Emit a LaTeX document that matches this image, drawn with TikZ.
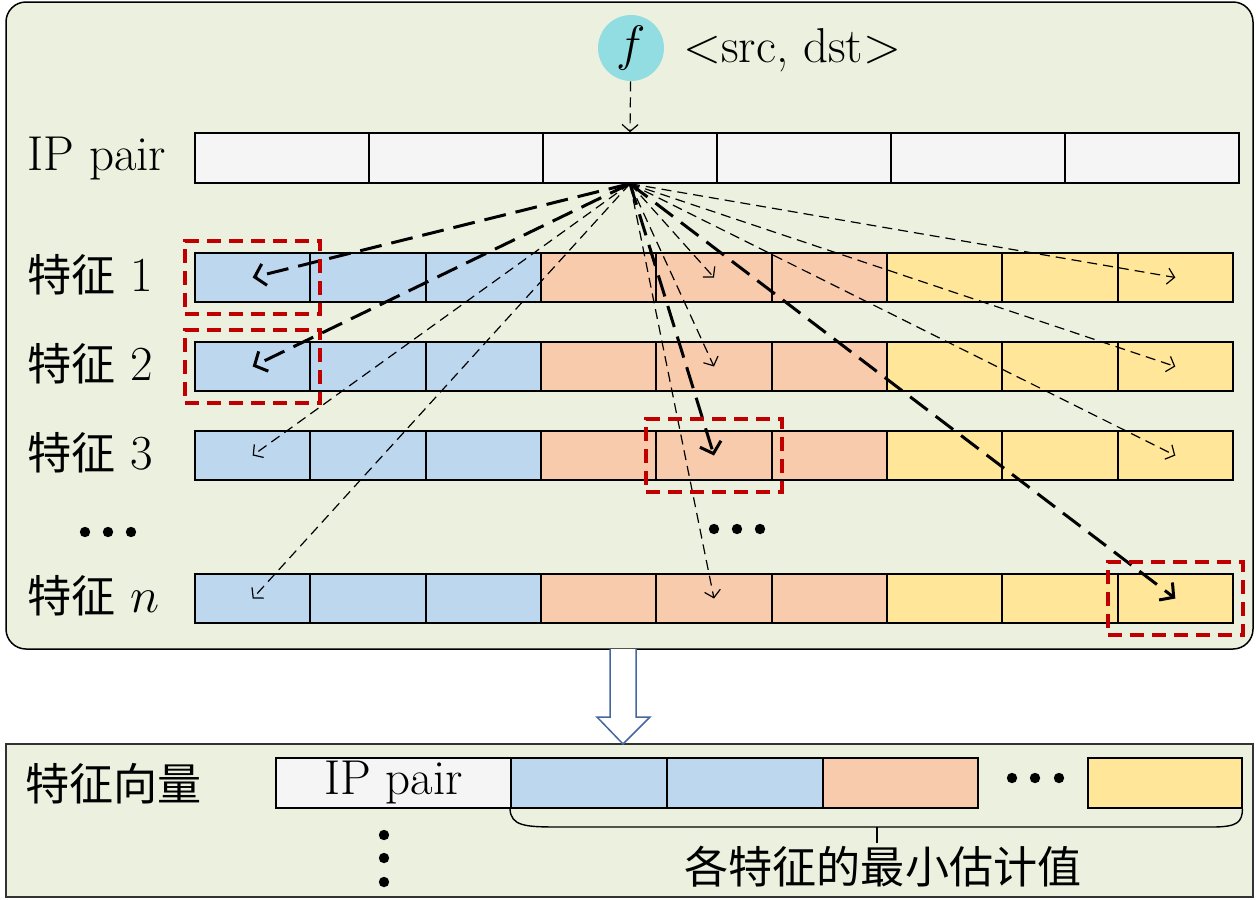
\documentclass[tikz,border=0pt]{standalone}
\usepackage{fontspec}
\newfontfamily\cjk{Noto Sans CJK SC}[Scale=0.9]
\usetikzlibrary{arrows.meta,fit}
\definecolor{panel}{HTML}{EBF1DE}
\definecolor{cyanf}{HTML}{92DDE2}
\definecolor{cb}{HTML}{BDD7EE}
\definecolor{co}{HTML}{F8CBAD}
\definecolor{cy}{HTML}{FFE699}
\definecolor{ipgray}{HTML}{F5F5F5}
\definecolor{darkred}{HTML}{C00000}
\definecolor{arrowblue}{HTML}{44679F}
\begin{document}
\begin{tikzpicture}[x=0.5pt,y=-0.5pt,
  every node/.style={font=\fontsize{24.5}{29}\selectfont, inner sep=0pt},
  cell/.style={draw=black, line width=1pt, minimum width=57.67pt, minimum height=24.5pt},
  ipcell/.style={draw=black, line width=0.7pt, fill=ipgray, minimum width=87pt, minimum height=25pt},
  vcell/.style={draw=black, line width=1pt, minimum height=25pt},
  thinarr/.style={draw=black, line width=0.6pt, dash pattern=on 5pt off 3pt, -{Straight Barb[length=3.5pt,width=8pt]}},
  thickarr/.style={draw=black, line width=1.5pt, dash pattern=on 11pt off 5pt, -{Straight Barb[length=5pt,width=11pt]}},
  redbox/.style={draw=darkred, line width=2pt, dash pattern=on 7pt off 4pt, inner xsep=4.5pt, inner ysep=5.5pt},
  lbl/.style={anchor=base west},
  panelbox/.style={draw=black, line width=0.75pt, fill=panel, minimum width=623.5pt},
]
\useasboundingbox (0,0) rectangle (1260,900);

% panels
\node[panelbox, rounded corners=10pt, minimum height=323.5pt] (top) at (629.5,325.5) {};
\node[panelbox, draw=black!80, minimum height=76.5pt] (bot) at (629.5,820.5) {};

% big hollow arrow
\draw[draw=arrowblue, fill=white, line width=0.75pt] (610,649) -- (610,717) -- (597,717) -- (623,744) -- (650,717) -- (636,717) -- (636,649);

% f and label
\node[circle, fill=cyanf, minimum size=33pt] (f) at (631,48) {$f$};
\node[lbl] (sd) at (683,62) {$<$src, dst$>$};

% IP pair row
\node[lbl] (iplbl) at (27,170) {IP pair};
\foreach \c in {1,...,6} {
  \node[ipcell] (ip\c) at ({195+(\c-0.5)*174},158) {};
}
\coordinate (src) at (ip3.south);
\draw[thinarr] (f) -- (ip3.north);

% feature rows
\foreach \r/\yy/\lab in {1/277.5/1, 2/366.5/2, 3/455.5/3, n/598.5/$n$} {
  \node[lbl] (lab\r) at (27,\yy+14) {{\cjk 特征} \lab};
  \foreach \c/\col in {1/cb,2/cb,3/cb,4/co,5/co,6/co,7/cy,8/cy,9/cy} {
    \node[cell, fill=\col] (r\r-\c) at ({195+(\c-0.5)*115.333},\yy) {};
  }
}

% dots
\fill (85,532) circle[radius=2.6pt] (108,532) circle[radius=2.6pt] (131,532) circle[radius=2.6pt];
\fill (714,529) circle[radius=2.6pt] (737,529) circle[radius=2.6pt] (760,529) circle[radius=2.6pt];

% arrows
\draw[thinarr] (src) -- (r1-5.center);
\draw[thinarr] (src) -- (r1-9.center);
\draw[thinarr] (src) -- (r2-5.center);
\draw[thinarr] (src) -- (r2-9.center);
\draw[thinarr] (src) -- (r3-1.center);
\draw[thinarr] (src) -- (r3-9.center);
\draw[thinarr] (src) -- (rn-1.center);
\draw[thinarr] (src) -- (rn-5.center);
\draw[thickarr] (src) -- (r1-1.center);
\draw[thickarr] (src) -- (r2-1.center);
\draw[thickarr] (src) -- (r3-5.center);
\draw[thickarr] (src) -- (rn-9.center);

% red boxes
\node[redbox, fit=(r1-1)] (rb1) {};
\node[redbox, fit=(r2-1)] (rb2) {};
\node[redbox, fit=(r3-5)] (rb3) {};
\node[redbox, fit=(rn-9)] (rbn) {};

% bottom panel content
\node[lbl] (fv) at (25,800) {\cjk 特征向量};
\node[vcell, fill=ipgray, line width=0.75pt, minimum width=117.5pt] (vip) at (393.5,783) {IP pair};
\node[vcell, fill=cb, minimum width=78pt] (vb1) at (589,783) {};
\node[vcell, fill=cb, minimum width=78pt] (vb2) at (745,783) {};
\node[vcell, fill=co, minimum width=77.5pt] (vo) at (900.5,783) {};
\node[vcell, fill=cy, minimum width=77pt] (vy) at (1164.5,783) {};
\fill (1012,778) circle[radius=2.6pt] (1035,778) circle[radius=2.6pt] (1059,778) circle[radius=2.6pt];
\fill (384,835) circle[radius=2.6pt] (384,858) circle[radius=2.6pt] (384,882) circle[radius=2.6pt];

% brace
\draw[line width=0.7pt] (vb1.south west) .. controls (511,826) and (525,827) .. (558,827) -- (1212,827) .. controls (1238,827) and (1242,822) .. (vy.south east);
\draw[line width=0.7pt] (877,827) -- (877,843);
\node (minval) at (883,867) {\cjk 各特征的最小估计值};
\end{tikzpicture}
\end{document}
